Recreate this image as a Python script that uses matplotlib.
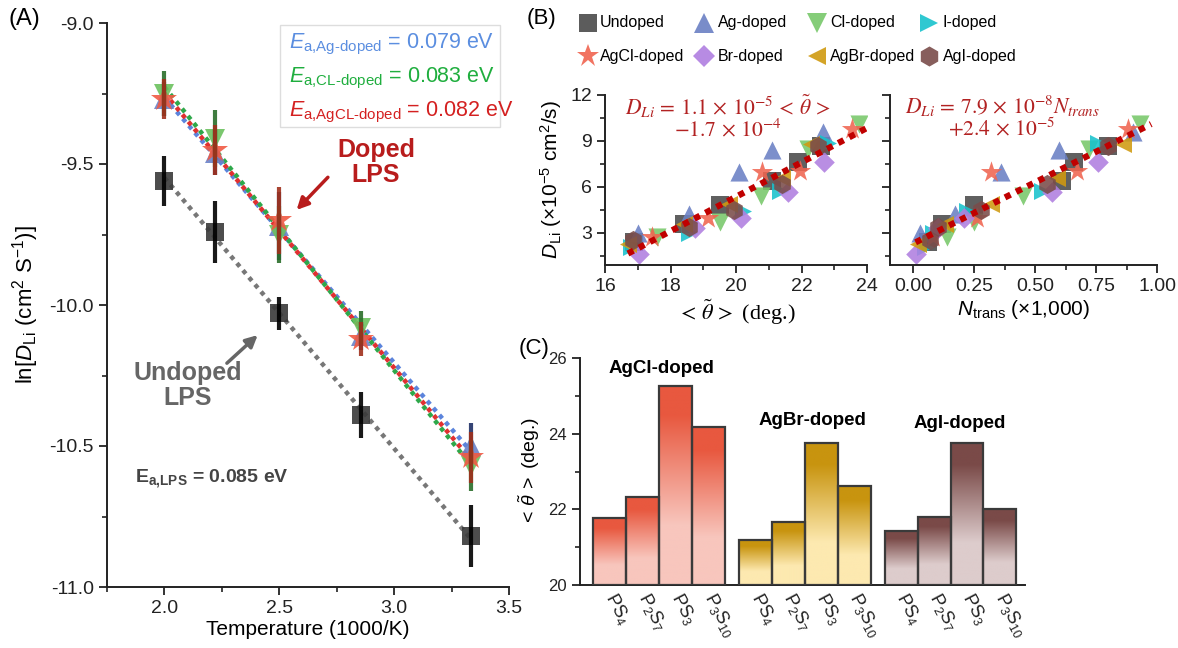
import matplotlib
matplotlib.use("Agg")
import matplotlib.pyplot as plt
import numpy as np
from matplotlib.lines import Line2D
from matplotlib.patches import Rectangle
from matplotlib.colors import LinearSegmentedColormap
from matplotlib.ticker import MultipleLocator

plt.rcParams['font.family'] = ['Liberation Sans', 'DejaVu Sans']
plt.rcParams['mathtext.fontset'] = 'custom'
plt.rcParams['mathtext.rm'] = 'Liberation Sans'
plt.rcParams['mathtext.it'] = 'Liberation Sans:italic'
plt.rcParams['mathtext.bf'] = 'Liberation Sans:bold'
plt.rcParams['axes.unicode_minus'] = False

# ---- panel A data: ln(D) vs 1000/T ----
t_inv = [2.0, 2.222, 2.5, 2.857, 3.333]
undoped_ln = [-9.56, -9.74, -10.03, -10.39, -10.82]
undoped_err = [0.09, 0.11, 0.06, 0.08, 0.11]
ag_ln = [-9.27, -9.46, -9.72, -10.11, -10.50]
ag_err = [0.06, 0.08, 0.12, 0.05, 0.08]
cl_ln = [-9.25, -9.41, -9.75, -10.08, -10.57]
cl_err = [0.08, 0.10, 0.10, 0.06, 0.09]
agcl_ln = [-9.27, -9.45, -9.70, -10.12, -10.54]
agcl_err = [0.07, 0.09, 0.12, 0.06, 0.09]

# ---- panel B data: D_Li (x1e-5 cm2/s) vs <theta> and N_trans ----
undoped_d = [2.4, 3.6, 4.8, 6.4, 7.6, 8.7]
undoped_theta = [16.9, 18.4, 19.5, 21.1, 21.9, 22.6]
undoped_n = [0.06, 0.12, 0.25, 0.61, 0.66, 0.80]

agdop_d = [3.0, 4.2, 7.0, 8.4, 9.6]
agdop_theta = [17.0, 18.55, 20.1, 21.1, 22.65]
agdop_n = [0.03, 0.17, 0.36, 0.60, 0.90]

cldop_d = [2.7, 3.7, 5.4, 8.5, 10.1]
cldop_theta = [17.6, 19.5, 20.75, 22.2, 23.75]
cldop_n = [0.14, 0.25, 0.45, 0.72, 0.93]

idop_d = [2.1, 3.0, 4.4, 5.7, 8.85]
idop_theta = [16.8, 18.55, 20.2, 21.35, 22.8]
idop_n = [0.05, 0.08, 0.22, 0.53, 0.76]

agcldop_d = [2.7, 4.0, 6.95, 7.05, 9.8]
agcldop_theta = [17.45, 19.15, 20.8, 21.95, 23.55]
agcldop_n = [0.08, 0.26, 0.32, 0.67, 0.88]

brdop_d = [1.65, 3.3, 4.0, 5.65, 7.65]
brdop_theta = [17.05, 18.75, 20.15, 21.6, 22.7]
brdop_n = [0.01, 0.10, 0.21, 0.57, 0.76]

agbrdop_d = [2.3, 3.6, 4.9, 6.6, 8.8]
agbrdop_theta = [16.7, 18.4, 19.8, 21.4, 22.3]
agbrdop_n = [0.02, 0.13, 0.32, 0.59, 0.86]

agidop_d = [2.5, 3.4, 4.5, 6.2, 8.7]
agidop_theta = [16.85, 18.55, 19.95, 21.4, 22.5]
agidop_n = [0.07, 0.10, 0.28, 0.55, 0.80]

# ---- panel C data: <theta> per bond unit ----
units = ['PS$_4$', 'P$_2$S$_7$', 'PS$_3$', 'P$_3$S$_{10}$']
agcl_theta = [21.77, 22.33, 25.26, 24.18]
agbr_theta = [21.19, 21.67, 23.75, 22.62]
agi_theta = [21.43, 21.80, 23.75, 22.00]

W, H = 1178, 648
fig = plt.figure(figsize=(W / 100, H / 100), dpi=100)
HY = '\u2010'  # real hyphen inside math subscripts


def style_axes(ax):
    for s in ['top', 'right']:
        ax.spines[s].set_visible(False)
    for s in ['left', 'bottom']:
        ax.spines[s].set_linewidth(1.4)
        ax.spines[s].set_color('#222222')
    ax.tick_params(which='major', direction='out', length=6, width=1.3, colors='#222222')
    ax.tick_params(which='minor', direction='out', length=3.5, width=1.2, colors='#222222')


def px_axes(left, top, right, bottom):
    return fig.add_axes([left / W, 1 - bottom / H, (right - left) / W, (bottom - top) / H])


# ================= panel A =================
axA = px_axes(107, 23, 509, 587)
style_axes(axA)

dots = (0, (1, 1.1))
series_a = [
    (undoped_ln, undoped_err, 's', '#3a3a3a', '#777777', 'black', 13),
    (ag_ln, ag_err, '^', '#6a82c8', '#5b84dc', '#1f2f66', 15),
    (cl_ln, cl_err, 'v', '#6cc15e', '#2ea84a', '#2a6e2a', 15),
    (agcl_ln, agcl_err, '*', '#f05a44', '#e03030', '#a0301c', 19),
]
for ln_d, err, mk, mcol, lcol, ecol, ms in series_a:
    m, c = np.polyfit(t_inv, ln_d, 1)
    xx = np.array([t_inv[0], t_inv[-1]])
    axA.plot(xx, m * xx + c, linestyle=dots, color=lcol, lw=3.2, zorder=1)
for ln_d, err, mk, mcol, lcol, ecol, ms in series_a:
    axA.plot(t_inv, ln_d, linestyle='none', marker=mk, ms=ms, color=mcol,
             markeredgewidth=0, alpha=0.9, zorder=3)
    axA.errorbar(t_inv, ln_d, yerr=err, fmt='none', ecolor=ecol, elinewidth=3,
                 capsize=0, zorder=4, alpha=0.9)

axA.set_xlim(1.75, 3.5)
axA.set_ylim(-11.0, -9.0)
axA.xaxis.set_major_locator(MultipleLocator(0.5))
axA.xaxis.set_minor_locator(MultipleLocator(0.25))
axA.yaxis.set_major_locator(MultipleLocator(0.5))
axA.yaxis.set_minor_locator(MultipleLocator(0.25))
axA.xaxis.set_major_formatter('{x:.1f}')
axA.yaxis.set_major_formatter('{x:.1f}')
axA.tick_params(labelsize=14)
axA.set_xlabel('Temperature (1000/K)', fontsize=15, labelpad=2)
axA.set_ylabel(r'ln[$D_{\mathrm{Li}}$ (cm$^2$ S$^{-1}$)]', fontsize=16, labelpad=6)

# activation energy box
axA.add_patch(Rectangle((0.43, 0.816), 0.548, 0.18, transform=axA.transAxes,
                        facecolor='white', edgecolor='#dddddd', lw=1, zorder=5))
ea_lines = [(r'$E_{\mathrm{a{,}Ag' + HY + r'doped}}$ = 0.079 eV', '#5b8ee0', 0.962),
            (r'$E_{\mathrm{a{,}CL' + HY + r'doped}}$ = 0.083 eV', '#1fae3e', 0.902),
            (r'$E_{\mathrm{a{,}AgCL' + HY + r'doped}}$ = 0.082 eV', '#d42020', 0.842)]
for txt, col, yy in ea_lines:
    axA.text(0.452, yy, txt, transform=axA.transAxes, fontsize=15.5, color=col,
             va='center', ha='left', zorder=6)

axA.text(0.669, 0.752, 'Doped\nLPS', transform=axA.transAxes, fontsize=18,
         fontweight='bold', color='#b81c1c', ha='center', va='center', linespacing=1.05)
axA.annotate('', xy=(2.567, -9.67), xytext=(2.72, -9.54),
             arrowprops=dict(arrowstyle='-|>,head_length=0.7,head_width=0.35',
                             color='#b81c1c', lw=2.5))
axA.text(0.2015, 0.358, 'Undoped\nLPS', transform=axA.transAxes, fontsize=18,
         fontweight='bold', color='#666666', ha='center', va='center', linespacing=1.05)
axA.annotate('', xy=(2.415, -10.10), xytext=(2.263, -10.213),
             arrowprops=dict(arrowstyle='-|>,head_length=0.7,head_width=0.35',
                             color='#666666', lw=2.5))
axA.text(0.07, 0.193, r'$\mathbf{E}_{\mathbf{a{,}LPS}}$ = 0.085 eV', transform=axA.transAxes,
         fontsize=14, fontweight='bold', color='#444444', ha='left', va='center')

fig.text(8 / W, 1 - 8 / H, '(A)', fontsize=17, ha='left', va='top')

# ================= panel B =================
series_b = [
    ('Undoped', 's', '#4a4a4a', 150, undoped_theta, undoped_n, undoped_d),
    ('Ag-doped', '^', '#6a80c4', 170, agdop_theta, agdop_n, agdop_d),
    ('Cl-doped', 'v', '#78c86a', 170, cldop_theta, cldop_n, cldop_d),
    ('I-doped', '>', '#18c2cc', 150, idop_theta, idop_n, idop_d),
    ('AgCl-doped', '*', '#f06450', 260, agcldop_theta, agcldop_n, agcldop_d),
    ('Br-doped', 'D', '#b07ee0', 110, brdop_theta, brdop_n, brdop_d),
    ('AgBr-doped', '<', '#d09a10', 150, agbrdop_theta, agbrdop_n, agbrdop_d),
    ('AgI-doped', 'h', '#7a4c4a', 190, agidop_theta, agidop_n, agidop_d),
]

axB1 = px_axes(605, 95, 867, 265)
axB2 = px_axes(890, 95, 1157, 265)
for ax in (axB1, axB2):
    style_axes(ax)
    ax.set_ylim(0.9, 12)
    ax.yaxis.set_major_locator(MultipleLocator(3))
    ax.yaxis.set_minor_locator(MultipleLocator(1.5))
    ax.tick_params(labelsize=14)

all_theta, all_n, all_d = [], [], []
for name, mk, col, s, th, nn, dd in series_b:
    axB1.scatter(th, dd, marker=mk, s=s, color=col, alpha=0.88, linewidths=0, zorder=2)
    axB2.scatter(nn, dd, marker=mk, s=s, color=col, alpha=0.88, linewidths=0, zorder=2)
    all_theta += th
    all_n += nn
    all_d += dd

for ax, xs in ((axB1, all_theta), (axB2, all_n)):
    m, c = np.polyfit(xs, all_d, 1)
    xx = np.array([min(xs), max(xs) + 0.05 * (max(xs) - min(xs))])
    ax.plot(xx, m * xx + c, linestyle=(0, (1, 1)), color='#c00000', lw=4.5, zorder=5)

axB1.set_xlim(16, 24)
axB1.xaxis.set_major_locator(MultipleLocator(2))
axB1.xaxis.set_minor_locator(MultipleLocator(1))
axB1.set_xlabel(r'$<\,\tilde{\theta}\,>$ (deg.)', fontsize=16, labelpad=2,
                family='Liberation Serif', math_fontfamily='stix')
axB1.set_ylabel(r'$D_{\mathrm{Li}}$ (×10$^{-5}$ cm$^2$/s)', fontsize=15, labelpad=4)

axB2.set_xlim(-0.095, 1.0)
axB2.xaxis.set_major_locator(MultipleLocator(0.25))
axB2.xaxis.set_minor_locator(MultipleLocator(0.125))
axB2.xaxis.set_major_formatter('{x:.2f}')
axB2.tick_params(axis='y', labelleft=False)
axB2.set_xlabel(r'$N_{\mathrm{trans}}$ (×1,000)', fontsize=15, labelpad=2)

eq_col = '#b22222'
eq1 = (r'$D_{Li}\, =\, 1.1\,\times\,10^{-5}\,<\,\tilde{\theta}\,>$' + '\n'
       + r'$-1.7\,\times\,10^{-4}$')
eq2 = (r'$D_{Li}\, =\, 7.9\,\times\,10^{-8} N_{trans}$' + '\n'
       + r'$+2.4\,\times\,10^{-5}$')
axB1.text(0.47, 0.87, eq1, transform=axB1.transAxes, fontsize=15.5, color=eq_col,
          ha='center', va='center', multialignment='center', linespacing=0.95,
          math_fontfamily='stix')
axB2.text(0.42, 0.87, eq2, transform=axB2.transAxes, fontsize=15.5, color=eq_col,
          ha='center', va='center', multialignment='center', linespacing=0.95,
          math_fontfamily='stix')

# legend placed by hand in two rows
leg_x = [(588, 600), (704, 718), (817, 830), (929, 943)]
leg_y = [23, 56]
for i, (name, mk, col, s, th, nn, dd) in enumerate(series_b):
    row, colidx = divmod(i, 4)
    mx, tx = leg_x[colidx]
    yy = 1 - leg_y[row] / H
    fig.add_artist(Line2D([mx / W], [yy], marker=mk, color=col, markersize=np.sqrt(s) * 1.05,
                          linestyle='none', markeredgewidth=0, alpha=0.9, transform=fig.transFigure))
    fig.text(tx / W, yy, name, fontsize=11.5, ha='left', va='center')

fig.text(527 / W, 1 - 8 / H, '(B)', fontsize=16, ha='left', va='top')

# ================= panel C =================
axC = px_axes(580, 358, 1025, 585)
style_axes(axC)
group_colors = [('#e8583f', '#f8c6bd'), ('#c8940f', '#fde9b0'), ('#7a4a48', '#ddcccc')]
group_vals = [agcl_theta, agbr_theta, agi_theta]
group_names = ['AgCl-doped', 'AgBr-doped', 'AgI-doped']
grad = np.linspace(0, 1, 256).reshape(-1, 1)
xticks, xlabels = [], []
for g, (vals, (ctop, cbot)) in enumerate(zip(group_vals, group_colors)):
    cmap = LinearSegmentedColormap.from_list('g%d' % g, [(0, cbot), (0.3, cbot), (0.85, ctop), (1, ctop)])
    for k, v in enumerate(vals):
        x = g * 4.42 + k
        bar = axC.bar(x, v - 20, bottom=20, width=1.0, facecolor='none',
                      edgecolor='#3a3a3a', lw=1.6, zorder=3)[0]
        im = axC.imshow(grad, extent=[x - 0.5, x + 0.5, 20, v], origin='lower',
                        aspect='auto', cmap=cmap, zorder=2)
        im.set_clip_path(bar)
        xticks.append(x)
        xlabels.append(units[k])

axC.set_xlim(-0.9, 12.6)
axC.set_ylim(20, 26)
axC.yaxis.set_major_locator(MultipleLocator(2))
axC.yaxis.set_minor_locator(MultipleLocator(1))
axC.set_xticks(xticks)
axC.set_xticklabels(xlabels, rotation=-62, ha='left', va='center', rotation_mode='anchor', fontsize=13)
axC.tick_params(axis='x', length=0, pad=7)
axC.tick_params(axis='y', labelsize=12)
axC.set_ylabel(r'$<\,\tilde{\theta}\,>$ (deg.)', fontsize=14, labelpad=4)
label_pos = [(1.56, 25.5), (6.14, 24.13), (10.63, 24.05)]
for name, (lx, ly) in zip(group_names, label_pos):
    axC.text(lx, ly, name, fontsize=13.5, fontweight='bold', ha='center', va='bottom')

fig.text(519 / W, 1 - 338 / H, '(C)', fontsize=16, ha='left', va='top')

fig.savefig('out.png', dpi=100)
